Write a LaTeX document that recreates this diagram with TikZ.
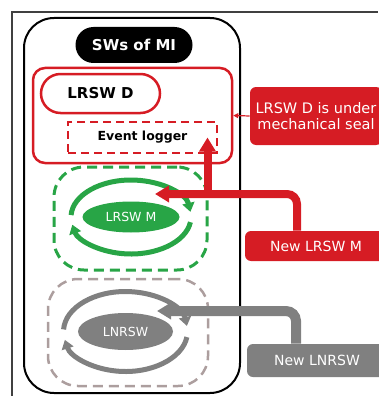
\documentclass[tikz,border=0pt]{standalone}
\usepackage{fontspec}
\setmainfont{DejaVu Sans}
\usetikzlibrary{arrows.meta}
\usetikzlibrary{shapes.geometric}
\definecolor{sealred}{RGB}{214,28,36}
\definecolor{swgreen}{RGB}{40,165,70}
\definecolor{swgray}{RGB}{128,128,128}
\definecolor{dashgray}{RGB}{172,158,158}
\def\fs#1{\fontsize{#1}{#1}\selectfont}

\begin{document}
\begin{tikzpicture}[x=1pt,y=-1pt,>=Triangle,semithick,
	box/.style={minimum width=#1},
	tag/.style={text=white,rounded corners=6pt,align=center,font=\fs{14}},
	ring/.style={line width=5pt,-{Triangle[width=12pt,length=9pt]}},
	feed/.style={line width=8pt,rounded corners=10pt,-{Triangle[width=16pt,length=14pt]}}]
	\useasboundingbox (0,0) rectangle (378,396);
	\draw[line width=1.2pt,black!75] (12,396) -- (12,12) -- (378,12);

	% software of the measuring instrument
	\node[draw,line width=2pt,rounded corners=30pt,box=216pt,minimum height=375pt] (MI) at (132,205.5) {};
	\node[fill=black,text=white,rounded corners=18pt,box=117pt,minimum height=36pt,font=\fs{15}\bfseries] (title) at (134,45) {SWs of MI};

	% legally relevant part D
	\node[draw=sealred,line width=2.5pt,rounded corners=12pt,box=199pt,minimum height=95pt] (D) at (132.5,115.5) {};
	\node[draw=sealred,line width=2.5pt,fill=white,rounded corners=19.5pt,box=119pt,minimum height=39pt,font=\fs{15}\bfseries] (lrswD) at (100.5,93.5) {LRSW D};
	\node[draw=sealred,line width=2.5pt,dash pattern=on 8pt off 5pt,box=149pt,minimum height=31pt,font=\fs{12.5}\bfseries] (logger) at (142.5,137.5) {Event logger};

	% updatable parts
	\node[draw=swgreen,line width=3pt,dash pattern=on 10pt off 6pt,rounded corners=30pt,box=153pt,minimum height=103pt] (Mbox) at (130.5,218.5) {};
	\node[ellipse,fill=swgreen,text=white,box=97pt,minimum height=31pt,inner sep=0pt,font=\fs{12.5}] (M) at (131,217) {LRSW M};
	\node[draw=dashgray,line width=2.5pt,dash pattern=on 10pt off 6pt,rounded corners=30pt,box=160pt,minimum height=107pt] (Nbox) at (128,332.5) {};
	\node[ellipse,fill=swgray,text=white,box=95pt,minimum height=37pt,inner sep=0pt,font=\fs{12.5}] (N) at (125.5,331.5) {LNRSW};

	% labels on the right
	\node[tag,fill=sealred,box=132pt,minimum height=58pt,font=\fs{14.5}] (seal) at (316,116) {LRSW D is under\\[2pt]mechanical seal};
	\node[tag,fill=sealred,box=142pt,minimum height=30pt] (newM) at (316,246) {New LRSW M};
	\node[tag,fill=swgray,box=140pt,minimum height=33pt] (newN) at (317,360.5) {New LNRSW};

	\coordinate (mtip) at (155,194);
	\coordinate (ntip) at (157,311);

	% update cycles
	\draw[ring,swgreen] ([shift={(183:60 and 37)}]M.center) arc[start angle=183,end angle=352,x radius=60,y radius=37];
	\draw[ring,swgreen] ([shift={(8:60 and 37)}]M.center) arc[start angle=8,end angle=168,x radius=60,y radius=37];
	\draw[ring,swgray] ([shift={(183:62 and 40)}]N.center) arc[start angle=183,end angle=352,x radius=62,y radius=40];
	\draw[ring,swgray] ([shift={(8:62 and 40)}]N.center) arc[start angle=8,end angle=168,x radius=62,y radius=40];

	\draw[->,sealred,line width=1.2pt,>={Triangle[width=5pt,length=5pt]}] (seal.west) -- (D.east);
	\draw[feed,sealred] ([xshift=-19pt]newM.north) |- (mtip);
	\draw[feed,sealred,rounded corners=0pt] ([xshift=65pt]logger.center |- mtip) -- ([xshift=65pt]logger.center);
	\draw[feed,swgray,line width=10pt] ([xshift=-21pt]newN.north) |- (ntip);
\end{tikzpicture}
\end{document}
